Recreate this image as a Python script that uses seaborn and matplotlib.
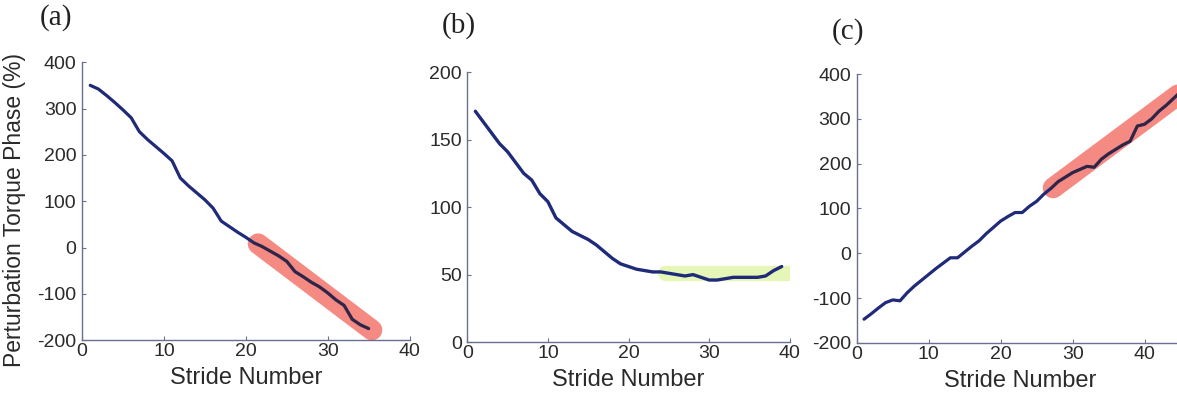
import numpy as np
import pandas as pd
import matplotlib
matplotlib.use("Agg")
import matplotlib.pyplot as plt
import seaborn as sns

# Stride-by-stride perturbation torque phase (%) for three sessions
stride_a = list(range(1, 36))
phase_a = [350, 342, 328, 313, 297, 280, 250, 233, 218, 203,
           187, 150, 133, 118, 103, 85, 57, 45, 33, 22,
           10, 2, -8, -18, -30, -52, -63, -75, -85, -98,
           -113, -125, -155, -167, -175]
hl_a = (21, 35)
# straight trend band over the late strides
band_a_x = [21.5, 35.4]
band_a_y = [8, -178]

stride_b = list(range(1, 40))
phase_b = [171, 163, 155, 147, 141, 133, 125, 120, 110, 104,
           92, 87, 82, 79, 76, 72, 67, 62, 58, 56,
           54, 53, 52, 52, 51, 50, 49, 50, 48, 46,
           46, 47, 48, 48, 48, 48, 49, 53, 56]
# flat band marking the plateau
band_b_x = [24.5, 40]
band_b_y = [51, 51]

stride_c = list(range(1, 46))
phase_c = [-147, -135, -122, -110, -104, -106, -88, -73, -60, -47,
           -34, -22, -10, -10, 3, 16, 28, 44, 58, 72,
           82, 91, 91, 105, 116, 132, 145, 160, 170, 180,
           187, 194, 192, 210, 222, 232, 242, 250, 284, 288,
           300, 317, 330, 345, 360]
hl_c = (27, 45)
band_c_x = [27.3, 45.2]
band_c_y = [146, 360]

sns.set_style("ticks")
plt.rcParams['font.family'] = ['Liberation Sans', 'DejaVu Sans']
plt.rcParams['axes.unicode_minus'] = False

LINE = "#1f2a78"
DARK = "#35253a"
RED = "#f37a70"
GREEN = "#e4f5ae"
AX = "#6a7090"
TXT = "#2a2a2a"

fig = plt.figure(figsize=(11.77, 3.96), dpi=100)
ax_a = fig.add_axes([0.0697, 0.141, 0.2783, 0.702])
ax_b = fig.add_axes([0.397, 0.136, 0.274, 0.682])
ax_c = fig.add_axes([0.728, 0.134, 0.278, 0.679])


def style(ax, xlim, ylim, yticks, xticks):
    ax.set_xlim(*xlim)
    ax.set_ylim(*ylim)
    ax.set_yticks(yticks)
    ax.set_xticks(xticks)
    for s in ("top", "right"):
        ax.spines[s].set_visible(False)
    for s in ("left", "bottom"):
        ax.spines[s].set_color(AX)
        ax.spines[s].set_linewidth(1.0)
    ax.tick_params(direction="in", length=3, width=0.8, color=AX,
                   labelsize=14, labelcolor=TXT)
    ax.tick_params(axis="y", pad=4)
    ax.tick_params(axis="x", pad=2)
    ax.set_xlabel("Stride Number", fontsize=17, color=TXT, labelpad=5)
    ax.set_ylabel("")


def highlighted(ax, x, y, lo, hi, bx, by):
    df = pd.DataFrame({"x": x, "y": y})
    seg = df[(df.x >= lo) & (df.x <= hi)]
    ax.plot(bx, by, color=RED, lw=15, alpha=0.88,
            solid_capstyle="round", zorder=1)
    sns.lineplot(data=df, x="x", y="y", ax=ax, color=LINE, lw=2.3, zorder=2)
    sns.lineplot(data=seg, x="x", y="y", ax=ax, color=DARK, lw=1.7, zorder=3)


# (a)
highlighted(ax_a, stride_a, phase_a, *hl_a, band_a_x, band_a_y)
style(ax_a, (0, 40), (-200, 400), range(-200, 401, 100), range(0, 41, 10))
ax_a.set_ylabel("Perturbation Torque Phase (%)", fontsize=16.5, color=TXT)
ax_a.yaxis.set_label_coords(-0.17, 0.47)

# (b)
ax_b.plot(band_b_x, band_b_y, color=GREEN, lw=11, alpha=0.9,
          solid_capstyle="round", zorder=1)
df_b = pd.DataFrame({"x": stride_b, "y": phase_b})
sns.lineplot(data=df_b, x="x", y="y", ax=ax_b, color=LINE, lw=2.4, zorder=2)
style(ax_b, (0, 40), (0, 200), range(0, 201, 50), range(0, 41, 10))

# (c)
highlighted(ax_c, stride_c, phase_c, *hl_c, band_c_x, band_c_y)
style(ax_c, (0, 45.5), (-200, 400), range(-200, 401, 100), range(0, 41, 10))

# panel letters
for x, y, t in [(0.034, 0.955, "(a)"), (0.375, 0.935, "(b)"), (0.707, 0.92, "(c)")]:
    fig.text(x, y, t, fontsize=21, family="Liberation Serif", color="#222222",
             va="center", ha="left")

fig.savefig("out.png", dpi=100)
